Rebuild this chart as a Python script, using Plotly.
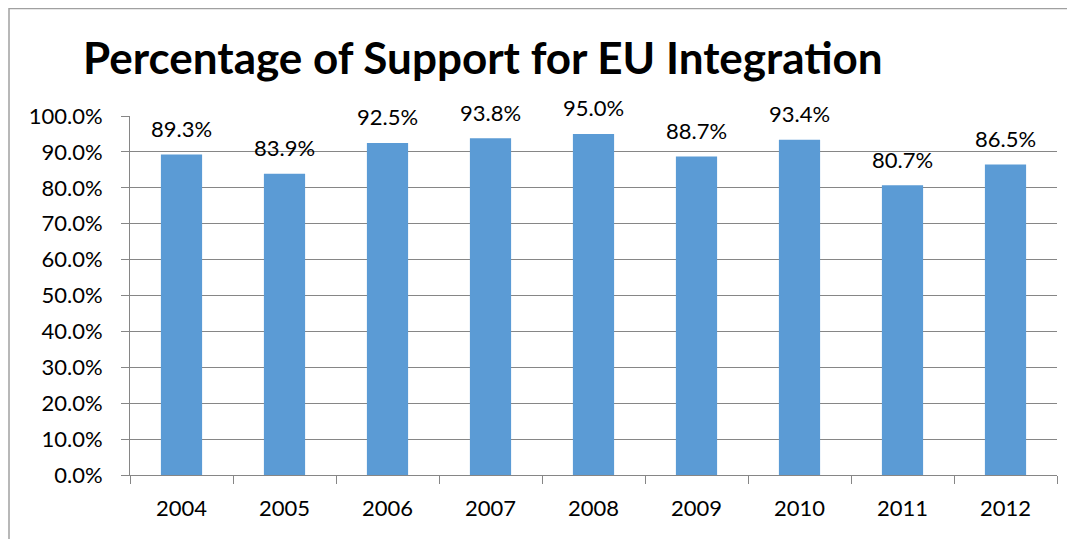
import plotly.graph_objects as go

years = ["2004", "2005", "2006", "2007", "2008", "2009", "2010", "2011", "2012"]
support = [0.893, 0.839, 0.925, 0.938, 0.950, 0.887, 0.934, 0.807, 0.865]
labels = ["89.3%", "83.9%", "92.5%", "93.8%", "95.0%", "88.7%", "93.4%", "80.7%", "86.5%"]
y_ticks = [i / 10 for i in range(11)]
y_tick_text = [f"{v*100:.1f}%" for v in y_ticks]

# page body has an 8px margin, so the figure is placed at (8, 8)
OFF = 8
W, H = 1075 - OFF, 539 - OFF
L, R, T, B = 130 - OFF, 18, 116 - OFF, 64
pw, ph = W - L - R, H - T - B

FONT = "Lato, Open Sans, sans-serif"

fig = go.Figure(go.Bar(
    x=years, y=support,
    marker=dict(color="#5B9BD5", line=dict(width=0)),
    width=0.4, hoverinfo="x+y",
))

for i, (v, lab) in enumerate(zip(support, labels)):
    fig.add_annotation(x=i, y=v, text=lab, showarrow=False, yanchor="middle",
                       yshift=26, font=dict(size=22, color="black", family=FONT))

fig.update_layout(
    width=W, height=H,
    margin=dict(l=L, r=R, t=T, b=B, autoexpand=False),
    paper_bgcolor="white", plot_bgcolor="white",
    showlegend=False,
    font=dict(family=FONT, color="black", size=22),
    title=dict(
        text="<b>Percentage of Support for EU Integration</b>",
        font=dict(size=44, family=FONT, color="black"),
        x=(83 - OFF) / W, xanchor="left", y=1 - (59 - OFF) / H, yanchor="middle",
    ),
    xaxis=dict(
        type="category", categoryorder="array", categoryarray=years,
        range=[-0.5, len(years) - 0.5], autorange=False,
        showgrid=False, showline=True, linecolor="#868686", linewidth=1,
        ticks="outside", tickson="boundaries", ticklen=8, tickcolor="#868686",
        tickfont=dict(size=22, family=FONT, color="black"), automargin=False,
        ticklabelstandoff=14,
    ),
    yaxis=dict(
        range=[0, 1], tickvals=y_ticks, ticktext=y_tick_text,
        showgrid=True, gridcolor="#868686", gridwidth=1,
        showline=True, linecolor="#868686", linewidth=1,
        ticks="outside", ticklen=8, tickcolor="#868686",
        tickfont=dict(size=22, family=FONT, color="black"),
        zeroline=False, ticklabelstandoff=14, automargin=False,
    ),
    shapes=[
        dict(type="line", xref="paper", yref="paper",
             x0=(1 - L) / pw, x1=(1 - L) / pw, y0=1 + (T + 2) / ph, y1=-(B + 5) / ph,
             line=dict(color="#A0A0A0", width=1.5)),
        dict(type="line", xref="paper", yref="paper",
             x0=(1 - L) / pw, x1=(W + 5 - L) / pw, y0=1 + (T - 0.5) / ph, y1=1 + (T - 0.5) / ph,
             line=dict(color="#A0A0A0", width=1.5)),
    ],
)

fig.write_html("out.html")
